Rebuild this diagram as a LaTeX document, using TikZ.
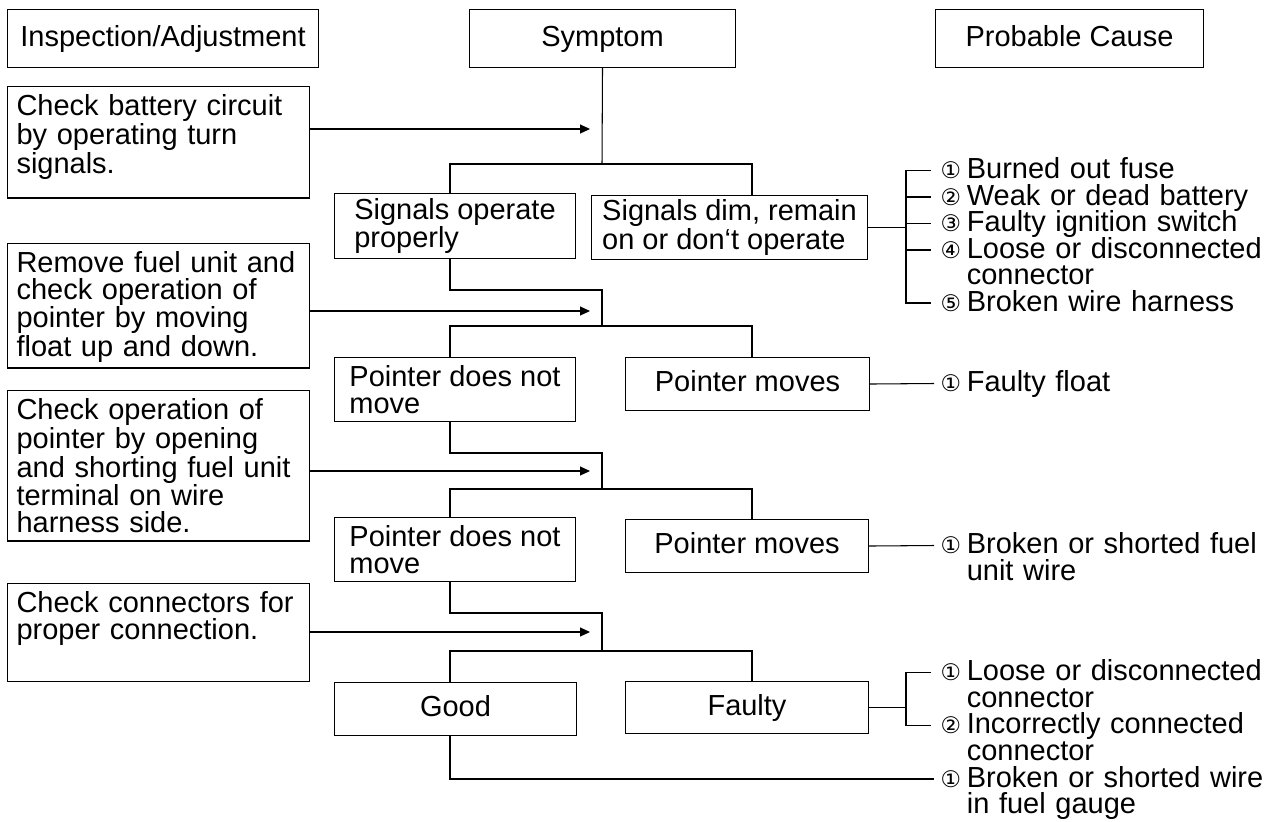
\documentclass[tikz,border=0pt]{standalone}
\usepackage{fontspec}
\setmainfont{Liberation Sans}
\newfontfamily\circfont{DejaVu Sans}
\usetikzlibrary{arrows.meta,positioning}

\newcommand{\cn}[1]{{\circfont\fontsize{13}{13}\selectfont #1}\hspace{0.2em}}

\begin{document}
\begin{tikzpicture}[
    x=0.02cm, y=-0.02cm,
    line width=0.6pt,
    every node/.style={font=\fontsize{16.5}{15.1}\selectfont},
    head/.style={draw, anchor=north west, minimum height=1.16cm, inner sep=0pt, text height=0.42cm, text depth=0.12cm},
    insp/.style={draw, anchor=north west, text width=5.68cm, align=left, inner xsep=0.18cm, inner ysep=0.16cm},
    sym/.style={draw, anchor=north west, align=left, inner sep=0pt},
    one/.style={text height=0.42cm, text depth=0.12cm},
    cause/.style={anchor=base west, inner sep=0pt, text width=7cm, align=left},
    arr/.style={-{Stealth[length=0.2cm, width=0.18cm, inset=0pt]}}
]
\useasboundingbox (0,0) rectangle (1273,821);

% Column headers
\node[head, minimum width=6.22cm] (hinsp) at (7,9) {Inspection/Adjustment};
\node[head, minimum width=5.32cm] (hsym) at (469,9) {Symptom};
\node[head, minimum width=5.36cm] (hcause) at (935,9) {Probable Cause};

% Inspection steps
\node[insp, text depth=1.49cm] (chk1) at (7,86) {Check battery circuit\\by operating turn\\signals.};
\node[insp, text depth=1.75cm] (chk2) at (7,243) {Remove fuel unit and\\check operation of\\pointer by moving\\float up and down.};
\node[insp, text depth=2.27cm] (chk3) at (7,390) {Check operation of\\pointer by opening\\and shorting fuel unit\\terminal on wire\\harness side.};
\node[insp, text depth=1.21cm] (chk4) at (7,583) {Check connectors for\\proper connection.};

% Symptoms
\node[sym, minimum width=4.82cm, minimum height=1.3cm] (sop) at (334,193) {Signals operate\\properly};
\node[sym, minimum width=5.52cm, minimum height=1.28cm] (sdim) at (591,195) {Signals dim, remain\\on or don‘t operate};
\node[sym, minimum width=4.82cm, minimum height=1.28cm] (pdn1) at (334,357) {Pointer does not\\move};
\node[sym, one, minimum width=4.88cm, minimum height=1.06cm] (pmv1) at (625,357) {Pointer moves};
\node[sym, minimum width=4.82cm, minimum height=1.28cm] (pdn2) at (334,517) {Pointer does not\\move};
\node[sym, one, minimum width=4.86cm, minimum height=1.06cm] (pmv2) at (625,519) {Pointer moves};
\node[sym, one, minimum width=4.84cm, minimum height=1.06cm] (good) at (334,682) {Good};
\node[sym, one, minimum width=4.86cm, minimum height=1.04cm] (fty) at (625,681) {Faulty};

% Routing points
\coordinate (cl) at (450,0);
\coordinate (cr) at (752,0);
\coordinate (bk) at (906,0);
\coordinate (j1) at (602,164);
\coordinate (e1) at (602,290);
\coordinate (j2) at (602,326);
\coordinate (e2) at (602,453);
\coordinate (j3) at (602,489);
\coordinate (e3) at (602,613);
\coordinate (j4) at (602,651);
\coordinate (a1) at (590,129);
\coordinate (a2) at (590,311);
\coordinate (a3) at (590,471);
\coordinate (a4) at (590,632);

% Inspection arrows
\draw[arr] (chk1.east |- a1) -- (a1);
\draw[arr] (chk2.east |- a2) -- (a2);
\draw[arr] (chk3.east |- a3) -- (a3);
\draw[arr] (chk4.east |- a4) -- (a4);

% Symptom flow
\draw (hsym.south) -- (j1);
\draw (cl |- sop.north) |- (j1) -| (cr |- sdim.north);
\draw (cl |- sop.south) |- (e1) -- (j2);
\draw (cl |- pdn1.north) |- (j2) -| (cr |- pmv1.north);
\draw (cl |- pdn1.south) |- (e2) -- (j3);
\draw (cl |- pdn2.north) |- (j3) -| (cr |- pmv2.north);
\draw (cl |- pdn2.south) |- (e3) -- (j4);
\draw (cl |- good.north) |- (j4) -| (cr |- fty.north);

% Causes: signals dim
\coordinate (k11) at (931,170.5);
\coordinate (k12) at (931,197);
\coordinate (k13) at (931,223.5);
\coordinate (k14) at (931,250);
\coordinate (k15) at (931,303);
\draw (sdim.east) -- (bk |- sdim.east);
\draw (k11) -| (bk |- k15) -- (k15);
\foreach \k in {k12,k13,k14} \draw (bk |- \k) -- (\k);
\node[cause] (c11) at ([shift={(9,8)}]k11) {\cn{①}Burned out fuse};
\node[cause] (c12) at ([shift={(9,8)}]k12) {\cn{②}Weak or dead battery};
\node[cause] (c13) at ([shift={(9,8)}]k13) {\cn{③}Faulty ignition switch};
\node[cause] (c14) at ([shift={(9,8)}]k14) {\cn{④}Loose or disconnected\\\hphantom{\cn{④}}connector};
\node[cause] (c15) at ([shift={(9,8)}]k15) {\cn{⑤}Broken wire harness};

% Causes: pointer moves
\coordinate (k21) at (934,383.5);
\draw (pmv1.east) -- (k21);
\node[cause] (c21) at ([shift={(6,8)}]k21) {\cn{①}Faulty float};

\coordinate (k31) at (934,545.5);
\draw (pmv2.east) -- (k31);
\node[cause] (c31) at ([shift={(6,8)}]k31) {\cn{①}Broken or shorted fuel\\\hphantom{\cn{①}}unit wire};

% Causes: connectors
\coordinate (k41) at (931,672.5);
\coordinate (k42) at (931,725.5);
\draw (fty.east) -- (bk |- fty.east);
\draw (k41) -| (bk |- k42) -- (k42);
\node[cause] (c41) at ([shift={(9,8)}]k41) {\cn{①}Loose or disconnected\\\hphantom{\cn{①}}connector};
\node[cause] (c42) at ([shift={(9,8)}]k42) {\cn{②}Incorrectly connected\\\hphantom{\cn{②}}connector};

\coordinate (k51) at (934,779);
\draw (cl |- good.south) |- (k51);
\node[cause] (c51) at ([shift={(6,8)}]k51) {\cn{①}Broken or shorted wire\\\hphantom{\cn{①}}in fuel gauge};

\end{tikzpicture}
\end{document}
